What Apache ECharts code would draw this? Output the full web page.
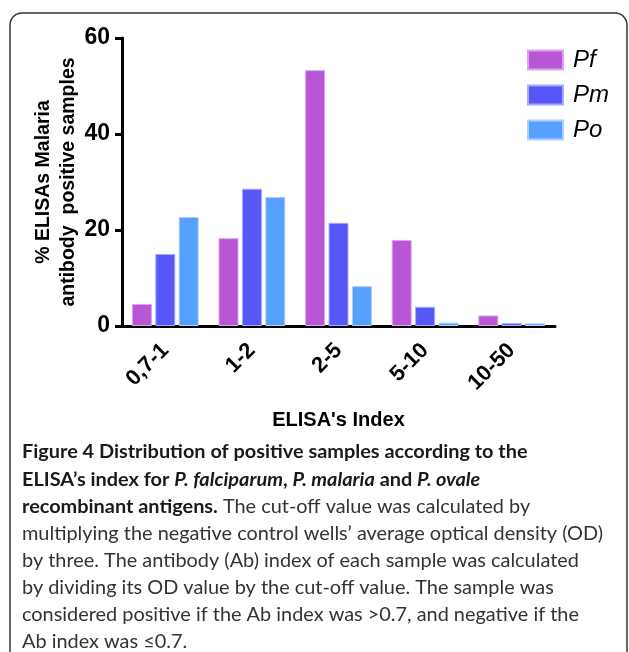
<!DOCTYPE html>
<html>
<head>
<meta charset="utf-8">
<script src="https://cdn.jsdelivr.net/npm/echarts@6/dist/echarts.min.js"></script>
<style>
  html, body { margin: 0; padding: 0; background: #fff; }
  #chart { width: 629px; height: 652px; }
</style>
</head>
<body>
<div id="chart"></div>
<script>
// data
var categories = ['0,7-1', '1-2', '2-5', '5-10', '10-50'];
var pfValues = [4.6, 18.3, 53.3, 17.9, 2.2];
var pmValues = [15.0, 28.6, 21.5, 4.0, 0.6];
var poValues = [22.7, 26.9, 8.3, 0.7, 0.55];
var yTicks = [0, 20, 40, 60];

var captionLines = [
    '{b|Figure 4 Distribution of positive samples according to the}',
    '{b|ELISA\u2019s index for }{bi|P. falciparum}{b|, }{bi|P. malaria}{b| and }{bi|P. ovale}',
    '{b|recombinant antigens.}{r| The cut-off value was calculated by}',
    '{r|multiplying the negative control wells\u2019 average optical density (OD)}',
    '{r|by three. The antibody (Ab) index of each sample was calculated}',
    '{r|by dividing its OD value by the cut-off value. The sample was}',
    '{r|considered positive if the Ab index was >0.7, and negative if the}',
    '{r|Ab index was \u22640.7.}'
];

var chartFont = '"Liberation Sans", Arial, sans-serif';
var capFont = 'Lato, "Open Sans", sans-serif';
var capSize = 19.9;

function barStyle(fill, border) {
    return { color: fill, borderColor: border, borderWidth: 1 };
}

var graphics = [{
    type: 'rect',
    shape: { x: 10, y: 13, width: 617, height: 652, r: 12 },
    style: { fill: 'none', stroke: '#333', lineWidth: 1.5 },
    silent: true
}];
captionLines.forEach(function (line, i) {
    graphics.push({
        type: 'text',
        left: 22,
        top: 442 + i * 27.1,
        style: {
            text: line,
            rich: {
                b: { fontFamily: capFont, fontWeight: 'bold', fontSize: capSize, fill: '#1a1a1a' },
                bi: { fontFamily: capFont, fontWeight: 'bold', fontStyle: 'italic', fontSize: capSize, fill: '#1a1a1a' },
                r: { fontFamily: capFont, fontSize: capSize, fill: '#333' }
            }
        }
    });
});

var chart = echarts.init(document.getElementById('chart'));
chart.setOption({
    backgroundColor: '#fff',
    animation: false,
    textStyle: { fontFamily: chartFont },
    grid: { left: 122, right: 74, top: 38, bottom: 326 },
    legend: {
        orient: 'vertical',
        left: 522,
        top: 43,
        icon: 'rect',
        itemWidth: 35,
        itemHeight: 19,
        itemGap: 11,
        textStyle: {
            fontFamily: chartFont, fontStyle: 'italic', fontSize: 24, color: '#000',
            padding: [0, 0, 0, 5]
        },
        data: ['Pf', 'Pm', 'Po']
    },
    xAxis: {
        type: 'category',
        data: categories,
        name: "ELISA's Index",
        nameLocation: 'middle',
        nameGap: 84,
        nameMoveOverlap: false,
        nameTextStyle: { fontFamily: chartFont, fontWeight: 'bold', fontSize: 20, color: '#000' },
        axisLine: { lineStyle: { color: '#000', width: 3 } },
        axisTick: { alignWithLabel: true, length: 7, lineStyle: { color: '#000', width: 3 } },
        axisLabel: { rotate: 45, margin: 21, fontFamily: chartFont, fontWeight: 'bold', fontSize: 22, color: '#000' }
    },
    yAxis: {
        type: 'value',
        min: 0,
        max: 60,
        interval: 20,
        name: '% ELISAs Malaria\nantibody  positive samples',
        nameLocation: 'middle',
        nameGap: 41,
        nameMoveOverlap: false,
        nameTextStyle: { fontFamily: chartFont, fontWeight: 'bold', fontSize: 19.5, lineHeight: 25, color: '#000' },
        axisLine: { show: true, lineStyle: { color: '#000', width: 3 } },
        axisTick: { show: true, length: 7, lineStyle: { color: '#000', width: 3 } },
        axisLabel: {
            margin: 12, fontFamily: chartFont, fontWeight: 'bold', fontSize: 23, color: '#000',
            formatter: function (v) { return yTicks.indexOf(v) >= 0 ? String(v) : ''; }
        },
        splitLine: { show: false }
    },
    series: [
        { name: 'Pf', type: 'bar', barWidth: 20, barGap: '17%', data: pfValues, itemStyle: barStyle('#B856D6', '#DCA6EC') },
        { name: 'Pm', type: 'bar', barWidth: 20, barGap: '17%', data: pmValues, itemStyle: barStyle('#5757F8', '#A8A8FF') },
        { name: 'Po', type: 'bar', barWidth: 20, barGap: '17%', data: poValues, itemStyle: barStyle('#56A0FE', '#ADCEFF') }
    ],
    graphic: graphics
});
</script>
</body>
</html>
